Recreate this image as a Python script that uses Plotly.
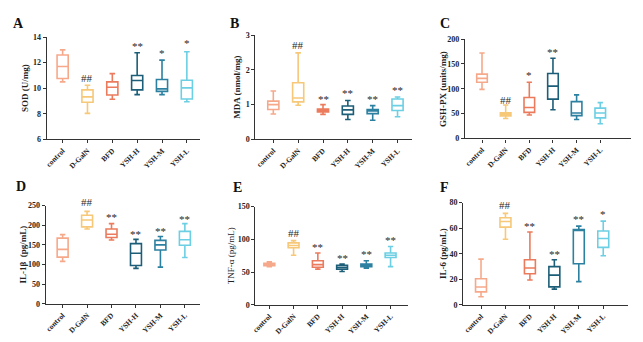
import plotly.graph_objects as go

W, H = 643, 342

categories = ["control", "D-GalN", "BFD", "YSH-H", "YSH-M", "YSH-L"]
colors = ["#F6A98A", "#F6C877", "#EB7B5C", "#1C5E78", "#2C80A0", "#6CCFE3"]

# box stats per panel: [lower whisker, q1, median, q3, upper whisker]
sod_low = [10.5, 8.03, 9.14, 9.5, 9.5, 8.94]
sod_q1 = [10.76, 8.9, 9.47, 9.87, 9.75, 9.16]
sod_med = [11.7, 9.32, 10.08, 10.6, 9.95, 10.03]
sod_q3 = [12.6, 9.87, 10.5, 11.0, 10.68, 10.63]
sod_high = [13.0, 10.23, 11.14, 12.78, 12.2, 12.86]
sod_marks = ["", "##", "", "**", "*", "*"]
sod_mark_y = [None, 10.8, None, 13.3, 12.75, 13.5]

mda_low = [0.73, 0.98, 0.72, 0.57, 0.55, 0.65]
mda_q1 = [0.86, 1.08, 0.79, 0.72, 0.74, 0.83]
mda_med = [1.0, 1.19, 0.83, 0.85, 0.82, 0.97]
mda_q3 = [1.10, 1.63, 0.87, 0.96, 0.86, 1.16]
mda_high = [1.39, 2.49, 1.0, 1.12, 0.97, 1.22]
mda_marks = ["", "##", "**", "**", "**", "**"]
mda_mark_y = [None, 2.72, 1.17, 1.33, 1.17, 1.42]

gsh_low = [98.7, 39.9, 47.1, 57.5, 37.9, 29.4]
gsh_q1 = [113, 45.1, 52.3, 79.1, 45.8, 41.2]
gsh_med = [120.9, 48.4, 62.1, 105.2, 51, 51]
gsh_q3 = [129.4, 51.6, 82.4, 130.7, 73.9, 60.8]
gsh_high = [171.9, 67.3, 113, 161.4, 87.6, 71.9]
gsh_marks = ["", "##", "*", "**", "", ""]
gsh_mark_y = [None, 78, 127, 173, None, None]

il1_low = [108.2, 190.2, 162.3, 90.2, 93.4, 118]
il1_q1 = [118.9, 195.9, 168.9, 97.5, 136.9, 149.2]
il1_med = [138.5, 213.1, 177, 128.7, 150, 163.1]
il1_q3 = [167.2, 225.4, 190.2, 153.3, 161.5, 184.4]
il1_high = [176.2, 235.2, 204.1, 164, 171.3, 204.1]
il1_marks = ["", "##", "**", "**", "**", "**"]
il1_mark_y = [None, 258, 221, 178, 186, 215]

tnf_low = [58.4, 75.7, 54.5, 51, 55.9, 58.4]
tnf_q1 = [59.9, 87.1, 57.4, 54.5, 58.4, 72.3]
tnf_med = [61.4, 90.6, 61.4, 57.4, 60.4, 75.7]
tnf_q3 = [63.4, 94.6, 67.3, 60.4, 62.4, 79.2]
tnf_high = [65.8, 98, 79.2, 62.4, 67.3, 89.1]
tnf_marks = ["", "##", "**", "**", "**", "**"]
tnf_mark_y = [None, 110, 89, 72, 78, 99]

il6_low = [6.4, 51.4, 19.4, 12.3, 18.2, 38.4]
il6_q1 = [10.2, 60.8, 24.3, 14.1, 32.2, 45]
il6_med = [14.0, 65.2, 28.9, 23.3, 58.3, 51.9]
il6_q3 = [20.4, 68.2, 35.3, 29.9, 59, 57.8]
il6_high = [35.8, 71.6, 57, 35.3, 61.6, 65.5]
il6_marks = ["", "##", "**", "**", "**", "*"]
il6_mark_y = [None, 78, 62, 39.6, 67.5, 71]

panels = [
    dict(letter="A", title="<b>SOD (U/mg)</b>", yr=[6, 14], dt=2,
         low=sod_low, q1=sod_q1, med=sod_med, q3=sod_q3, high=sod_high,
         marks=sod_marks, my=sod_mark_y,
         ax=43, bx=197, c0=59, c5=184, ytop=34, ybot=139, lx=15, ly=20, tx=21),
    dict(letter="B", title="<b>MDA (nmol/mg)</b>", yr=[0, 3], dt=1,
         low=mda_low, q1=mda_q1, med=mda_med, q3=mda_q3, high=mda_high,
         marks=mda_marks, my=mda_mark_y,
         ax=253, bx=411, c0=271, c5=396, ytop=32, ybot=139, lx=232, ly=20, tx=235),
    dict(letter="C", title="<b>GSH-PX (units/mg)</b>", yr=[0, 200], dt=50,
         low=gsh_low, q1=gsh_q1, med=gsh_med, q3=gsh_q3, high=gsh_high,
         marks=gsh_marks, my=gsh_mark_y,
         ax=464, bx=631, c0=481, c5=600, ytop=36, ybot=138, lx=444, ly=20, tx=441),
    dict(letter="D", title="<b>IL-1\u03b2  (pg/mL)</b>", yr=[0, 250], dt=50,
         low=il1_low, q1=il1_q1, med=il1_med, q3=il1_q3, high=il1_high,
         marks=il1_marks, my=il1_mark_y,
         ax=42, bx=197, c0=59, c5=182, ytop=207, ybot=308, lx=17, ly=187, tx=19),
    dict(letter="E", title="TNF-\u03b1 (pg/mL)", yr=[0, 150], dt=50,
         low=tnf_low, q1=tnf_q1, med=tnf_med, q3=tnf_q3, high=tnf_high,
         marks=tnf_marks, my=tnf_mark_y,
         ax=253, bx=407, c0=267, c5=389, ytop=208, ybot=309, lx=235, ly=188, tx=228),
    dict(letter="F", title="<b>IL-6 (pg/mL)</b>", yr=[0, 80], dt=20,
         low=il6_low, q1=il6_q1, med=il6_med, q3=il6_q3, high=il6_high,
         marks=il6_marks, my=il6_mark_y,
         ax=462, bx=628, c0=480, c5=603, ytop=204, ybot=309, lx=443, ly=188, tx=441),
]

SERIF = "Liberation Serif, Times New Roman, serif"
AXC = "#333333"


def fmt(v):
    return str(int(v)) if float(v).is_integer() else str(v)


fig = go.Figure()
annotations = []
layout = {}
for i, p in enumerate(panels):
    n = i + 1
    xa = "x" if n == 1 else f"x{n}"
    ya = "y" if n == 1 else f"y{n}"
    s = (p["c5"] - p["c0"]) / 5.0
    xlo = (p["ax"] - p["c0"]) / s
    xhi = (p["bx"] - p["c0"]) / s
    ylo, yhi = p["yr"]
    y0p = 1 - p["ybot"] / H
    y1p = 1 - p["ytop"] / H
    x0p = p["ax"] / W
    x1p = p["bx"] / W
    for j, cat in enumerate(categories):
        fig.add_trace(go.Box(
            x=[j], q1=[p["q1"][j]], median=[p["med"][j]], q3=[p["q3"][j]],
            lowerfence=[p["low"][j]], upperfence=[p["high"][j]],
            line=dict(color=colors[j], width=1.6),
            fillcolor="rgba(255,255,255,0)",
            whiskerwidth=0.5, boxpoints=False,
            xaxis=xa, yaxis=ya, showlegend=False, hoverinfo="skip",
        ))
        if p["marks"][j]:
            # convert data position to paper position (marks may sit above the axis top)
            px = x0p + (j - xlo) / (xhi - xlo) * (x1p - x0p)
            py = y0p + (p["my"][j] - ylo) / (yhi - ylo) * (y1p - y0p)
            annotations.append(dict(
                x=px, y=py, xref="paper", yref="paper", text=p["marks"][j],
                xanchor="center", yanchor="middle",
                showarrow=False, font=dict(family=SERIF, size=11, color="#2a2a2a"),
            ))
    xkey = "xaxis" if n == 1 else f"xaxis{n}"
    ykey = "yaxis" if n == 1 else f"yaxis{n}"
    yt = list(range(int(ylo), int(yhi) + 1, int(p["dt"])))
    layout[xkey] = dict(
        domain=[x0p, x1p], range=[xlo, xhi], anchor=ya,
        tickmode="array", tickvals=list(range(6)),
        ticktext=[f"<b>{c}</b>" for c in categories],
        tickangle=-45, showline=True, linecolor=AXC, linewidth=1.3,
        ticks="outside", ticklen=3, tickcolor=AXC, showgrid=False, zeroline=False,
        tickfont=dict(family=SERIF, size=7.5, color="#222"),
    )
    layout[ykey] = dict(
        domain=[y0p, y1p], range=p["yr"], anchor=xa,
        tickmode="array", tickvals=yt, ticktext=[f"<b>{fmt(v)}</b>" for v in yt],
        showline=True, linecolor=AXC, linewidth=1.3,
        ticks="outside", ticklen=3, tickcolor=AXC, showgrid=False, zeroline=False,
        tickfont=dict(family=SERIF, size=8, color="#222"),
    )
    annotations.append(dict(
        x=p["lx"] / W, y=1 - p["ly"] / H, xref="paper", yref="paper",
        text=f"<b>{p['letter']}</b>", showarrow=False,
        xanchor="center", yanchor="middle",
        font=dict(family=SERIF, size=14, color="#111"),
    ))
    annotations.append(dict(
        x=p["tx"] / W, y=1 - ((p["ytop"] + p["ybot"]) / 2) / H,
        xref="paper", yref="paper", text=p["title"],
        xanchor="center", yanchor="middle",
        textangle=-90, showarrow=False,
        font=dict(family=SERIF, size=9, color="#222"),
    ))

fig.update_layout(
    width=W, height=H, margin=dict(l=0, r=0, t=0, b=0),
    paper_bgcolor="white", plot_bgcolor="white",
    boxmode="overlay", boxgap=0.36,
    annotations=annotations, **layout,
)
fig.write_html("out.html")
